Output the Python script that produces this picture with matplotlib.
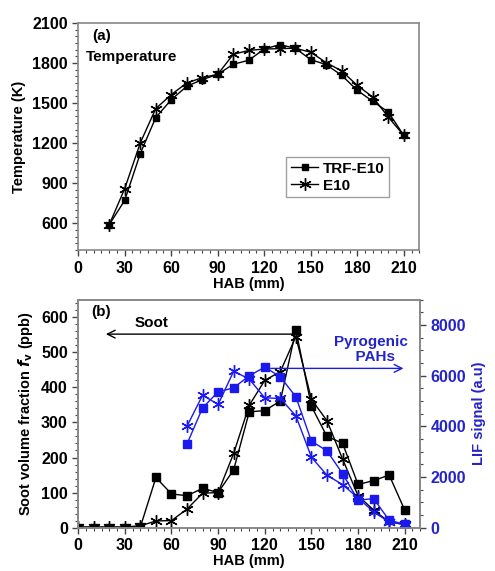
import matplotlib

matplotlib.use("Agg")
import matplotlib.pyplot as plt
from matplotlib.ticker import MultipleLocator

plt.rcParams["font.family"] = ["Liberation Sans", "DejaVu Sans"]
plt.rcParams["font.weight"] = "bold"
plt.rcParams["axes.labelweight"] = "bold"

# (a) flame temperature vs height above burner
hab_t = [20, 30, 40, 50, 60, 70, 80, 90, 100, 110, 120, 130, 140, 150, 160, 170, 180, 190, 200, 210]
temp_trf = [590, 772, 1121, 1391, 1525, 1625, 1675, 1715, 1790, 1820, 1904, 1937, 1910, 1825, 1787, 1707, 1595, 1513, 1433, 1258]
temp_e10 = [590, 860, 1201, 1458, 1563, 1650, 1690, 1715, 1864, 1894, 1904, 1907, 1910, 1880, 1802, 1740, 1632, 1545, 1395, 1258]

# (b) soot volume fraction (ppb)
hab_s = [0, 10, 20, 30, 40, 50, 60, 70, 80, 90, 100, 110, 120, 130, 140, 150, 160, 170, 180, 190, 200, 210]
soot_trf = [0, 0, 0, 0, 2, 143, 96, 91, 112, 100, 165, 330, 334, 361, 564, 346, 260, 241, 123, 134, 150, 50]
soot_e10 = [2, 2, 2, 2, 5, 19, 20, 53, 98, 100, 212, 349, 420, 445, 545, 366, 305, 196, 91, 50, 16, 9]

# (b) pyrogenic PAH LIF signal (a.u.)
hab_p = [70, 80, 90, 100, 110, 120, 130, 140, 150, 160, 170, 180, 190, 200, 210]
lif_trf = [3308, 4731, 5364, 5522, 5997, 6340, 5957, 5167, 3414, 3031, 2135, 1081, 1147, 290, 132]
lif_e10 = [4007, 5233, 4864, 6181, 5865, 5127, 5101, 4415, 2781, 2069, 1700, 1173, 619, 224, 119]

BLUE = "#1a1aee"
TXT_BLUE = "#2424c8"
SPINE = "#888888"
TICK_FS = 11.5
LABEL_FS = 10.5
TEXT_FS = 11


def style_axis(ax, labelcolor="k"):
    for sp in ax.spines.values():
        sp.set_color(SPINE)
        sp.set_linewidth(1.2)
    ax.tick_params(which="both", direction="out", color="#444444",
                   labelsize=TICK_FS, labelcolor=labelcolor)
    ax.tick_params(which="major", length=4, width=1)
    ax.tick_params(which="minor", length=2, width=0.8)


fig = plt.figure(figsize=(4.95, 5.71), dpi=100)
ax1 = fig.add_axes([0.158, 0.562, 0.689, 0.398])
ax2 = fig.add_axes([0.158, 0.076, 0.691, 0.399])

# ---- (a)
ax1.plot(hab_t, temp_trf, "-", color="k", lw=1, marker="s", ms=5, label="TRF-E10")
ax1.plot(hab_t, temp_e10, "-", color="k", lw=1, marker=(6, 2, 0), ms=9, mew=1, label="E10")
ax1.set_xlim(0, 220)
ax1.set_ylim(400, 2100)
ax1.set_xticks(range(0, 211, 30))
ax1.xaxis.set_minor_locator(MultipleLocator(5))
ax1.yaxis.set_major_locator(MultipleLocator(300))
ax1.yaxis.set_minor_locator(MultipleLocator(50))
ax1.set_xlabel("HAB (mm)", fontsize=LABEL_FS, labelpad=1)
ax1.set_ylabel("Temperature (K)", fontsize=LABEL_FS)
style_axis(ax1)
ax1.text(15, 2000, "(a)", ha="center", va="center", fontsize=TEXT_FS)
ax1.text(5, 1844, "Temperature", ha="left", va="center", fontsize=TEXT_FS)
leg = ax1.legend(loc="lower right", bbox_to_anchor=(0.912, 0.233), fontsize=TEXT_FS,
                 frameon=True, fancybox=False, handlelength=1.8, handletextpad=0.3,
                 borderpad=0.3, labelspacing=0.2, borderaxespad=0)
leg.get_frame().set_edgecolor(SPINE)
leg.get_frame().set_linewidth(1)

# ---- (b) soot on the left axis
ax2.plot(hab_s, soot_trf, "-", color="k", lw=1, marker="s", ms=5.5)
ax2.plot(hab_s, soot_e10, "-", color="k", lw=1, marker=(6, 2, 0), ms=9, mew=1)
ax2.set_xlim(0, 220)
ax2.set_ylim(0, 650)
ax2.set_xticks(range(0, 211, 30))
ax2.xaxis.set_minor_locator(MultipleLocator(5))
ax2.yaxis.set_major_locator(MultipleLocator(100))
ax2.yaxis.set_minor_locator(MultipleLocator(20))
ax2.set_xlabel("HAB (mm)", fontsize=LABEL_FS, labelpad=1)
ax2.set_ylabel(r"Soot volume fraction $\mathbf{\mathit{f}_v}$ (ppb)", fontsize=LABEL_FS)
style_axis(ax2)
ax2.text(15, 614, "(b)", ha="center", va="center", fontsize=TEXT_FS)
ax2.text(47, 583, "Soot", ha="center", va="center", fontsize=TEXT_FS)
ax2.annotate("", xy=(16, 552), xytext=(139, 552),
             arrowprops=dict(arrowstyle="->", color="k", lw=1, mutation_scale=14))

# ---- (b) PAH LIF on the right axis
ax3 = ax2.twinx()
ax3.plot(hab_p, lif_trf, "-", color=BLUE, lw=1, marker="s", ms=5.5)
ax3.plot(hab_p, lif_e10, "-", color=BLUE, lw=1, marker=(6, 2, 0), ms=9, mew=1)
ax3.set_ylim(0, 9000)
ax3.yaxis.set_major_locator(MultipleLocator(2000))
ax3.yaxis.set_minor_locator(MultipleLocator(500))
style_axis(ax3, labelcolor=TXT_BLUE)
ax3.set_ylabel("LIF signal (a.u)", fontsize=LABEL_FS, color=TXT_BLUE)
ax3.annotate("", xy=(211, 6290), xytext=(122, 6290),
             arrowprops=dict(arrowstyle="->", color=BLUE, lw=1, mutation_scale=14))
ax3.text(188, 7050, "Pyrogenic\n  PAHs", ha="center", va="center", fontsize=TEXT_FS,
         color=TXT_BLUE, linespacing=1.1)

fig.savefig("out.png", dpi=100)
